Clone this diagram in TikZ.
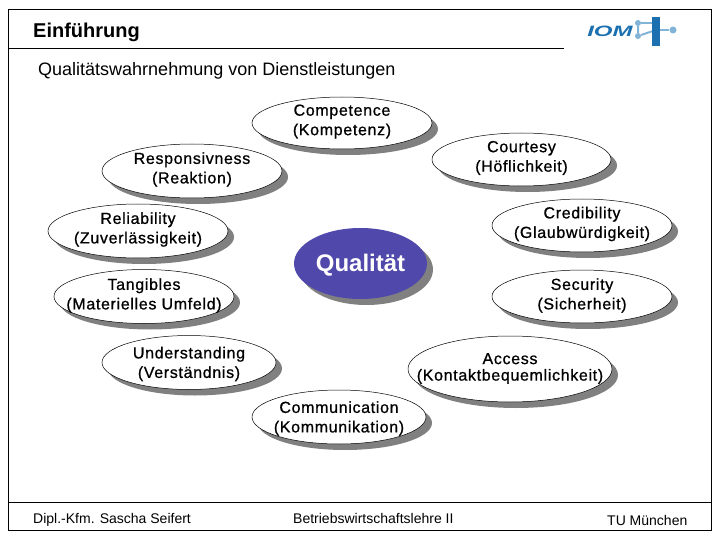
\documentclass[tikz,border=0pt]{standalone}
\usepackage{fontspec}
\setmainfont{Liberation Sans}
\newfontfamily\ovalfont[LetterSpace=4.2,FakeBold=0.8]{Liberation Sans}
\usetikzlibrary{shapes.geometric,shadows}
\definecolor{quality}{RGB}{80,72,170}
\definecolor{logoblue}{RGB}{28,112,176}
\definecolor{logolight}{RGB}{130,180,215}
\tikzset{
  x=1pt,y=-1pt,
  frameline/.style={draw=black,line width=0.9pt},
  oval/.style={ellipse,draw=black,line width=0.5pt,fill=white,inner sep=0pt,
    drop shadow={shadow xshift=6pt,shadow yshift=-6pt,fill=black!50,opacity=1}},
  lab/.style={align=center,inner sep=0pt,font=\ovalfont\fontsize{16}{19.5}\selectfont,text=black},
  plain/.style={inner sep=0pt,text=black},
}
\begin{document}
\begin{tikzpicture}
\useasboundingbox (0,0) rectangle (720,540);
\fill[white] (0,0) rectangle (720,540);
\coordinate (fa) at (8.5,9.5);
\coordinate (fb) at (711,530);
\coordinate (h1) at (8.5,48.5);
\coordinate (h2) at (564,48.5);
\coordinate (f1) at (8.5,502.5);
\coordinate (f2) at (711,502.5);
\draw[frameline] (fa) rectangle (fb);
\draw[frameline] (h1) -- (h2);
\draw[frameline] (f1) -- (f2);
\node[plain,anchor=base west,font=\fontsize{20}{24}\selectfont\bfseries] (title) at (33,38) {Einführung};
\node[plain,anchor=base west,font=\fontsize{18}{21}\selectfont] (sub) at (38,76) {Qualitätswahrnehmung von Dienstleistungen};
\node[oval,minimum width=180pt,minimum height=52pt,label={[lab,yshift=1.5pt]center:{Competence\\(Kompetenz)}}] (competence) at (342,123) {};
\node[oval,minimum width=180pt,minimum height=54pt,label={[lab,yshift=1.5pt]center:{Responsivness\\(Reaktion)}}] (responsiveness) at (192,171) {};
\node[oval,minimum width=180pt,minimum height=54pt,label={[lab,yshift=1.5pt]center:{Reliability\\(Zuverlässigkeit)}}] (reliability) at (138,231) {};
\node[oval,minimum width=180pt,minimum height=54pt,label={[lab,yshift=1pt]center:{Tangibles\\(Materielles Umfeld)}}] (tangibles) at (144,296.5) {};
\node[oval,minimum width=174pt,minimum height=54pt,label={[lab,yshift=-1.5pt]center:{Understanding\\(Verständnis)}}] (understanding) at (189,362.5) {};
\node[oval,minimum width=174pt,minimum height=54pt,label={[lab,yshift=-1.5pt]center:{Communication\\(Kommunikation)}}] (communication) at (339,417) {};
\node[oval,minimum width=179pt,minimum height=53pt,label={[lab,yshift=1.5pt]center:{Courtesy\\(Höflichkeit)}}] (courtesy) at (521.5,159.5) {};
\node[oval,minimum width=180pt,minimum height=53pt,label={[lab,yshift=1.5pt]center:{Credibility\\(Glaubwürdigkeit)}}] (credibility) at (582,225.5) {};
\node[oval,minimum width=180pt,minimum height=53pt,label={[lab,yshift=1pt]center:{Security\\(Sicherheit)}}] (security) at (582,296.5) {};
\node[oval,minimum width=204pt,minimum height=66pt,label={[lab,font=\ovalfont\fontsize{16}{16.5}\selectfont,yshift=0.5pt]center:{Access\\(Kontaktbequemlichkeit)}}] (access) at (510,369) {};
\node[ellipse,minimum width=133pt,minimum height=71pt,inner sep=0pt,fill=quality,
  drop shadow={shadow xshift=6pt,shadow yshift=-6pt,fill=black!50,opacity=1},
  label={[inner sep=0pt,text=white,font=\fontsize{24}{26}\selectfont\bfseries,yshift=-2pt]center:Qualität}] (quality) at (360.5,263.5) {};
\node[plain,anchor=base west,font=\fontsize{14}{17}\selectfont] (author) at (33,523) {Dipl.-Kfm. Sascha Seifert};
\node[plain,anchor=base west,font=\fontsize{14}{17}\selectfont] (subject) at (293,523) {Betriebswirtschaftslehre II};
\node[plain,anchor=base west,font=\fontsize{14}{17}\selectfont] (uni) at (607,525) {TU München};
% logo
\node[plain,anchor=base west,xscale=1.6,font=\fontsize{15}{18}\selectfont\bfseries\itshape,text=logoblue] (iom) at (587,37) {IOM};
\coordinate (bart) at (656,17);
\coordinate (barb) at (656,46);
\coordinate (u1) at (656,23);
\coordinate (u2) at (656,30);
\node[circle,fill=logolight,minimum size=6pt,inner sep=0pt] (d1) at (638,23) {};
\node[circle,fill=logolight,minimum size=6pt,inner sep=0pt] (d2) at (638,36) {};
\node[circle,fill=logolight,minimum size=7pt,inner sep=0pt] (d3) at (673,30) {};
\draw[logolight,line width=2pt] (d1) -- (u1);
\draw[logolight,line width=2pt] (d1) -- (d2) -- (u2);
\draw[logolight,line width=2pt] (u2) -- (d3);
\draw[logoblue,line width=7.5pt] (bart) -- (barb);
\end{tikzpicture}
\end{document}
